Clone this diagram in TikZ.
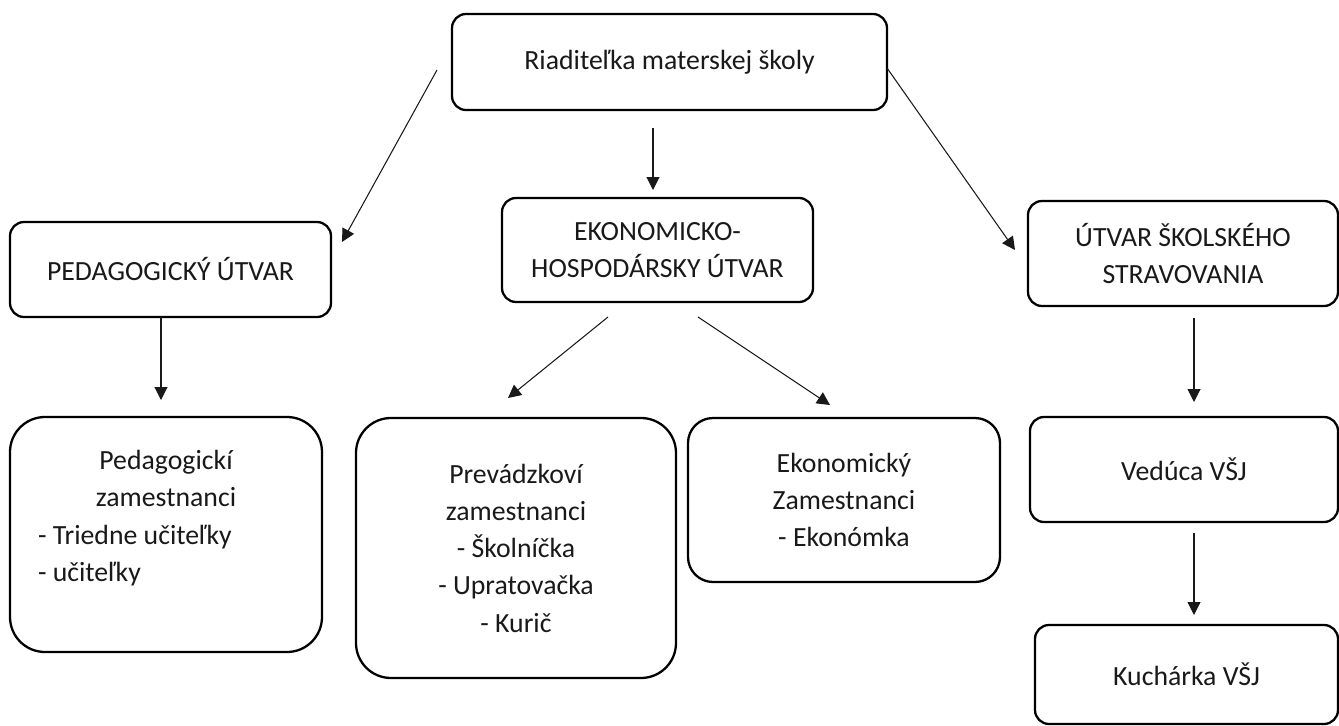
\documentclass[tikz,border=0pt]{standalone}
\usepackage{fontspec}
\setmainfont{Carlito}
\usepackage{tikz}
\usetikzlibrary{arrows.meta, positioning}
\usepackage{xcolor}
\definecolor{inkgray}{rgb}{0.1, 0.1, 0.1}

\begin{document}
\begin{tikzpicture}[
			unit/.style={draw=black, line width=1.3pt, rounded corners=0.28cm, align=center, text=inkgray, font=\fontsize{15.8}{21.2}\selectfont},
			staff/.style={unit, rounded corners=0.7cm},
			arr/.style={-{Triangle[length=0.26cm, width=0.26cm]}, line width=0.6pt, draw=inkgray}
		]
		\useasboundingbox (0,0) rectangle (26.78,-14.52);
		% top
		\node[unit, minimum width=8.7cm, minimum height=1.92cm] (root) at (13.39,-1.24) {Riaditeľka materskej školy};
		% middle row
		\node[unit, minimum width=6.42cm, minimum height=1.90cm] (ped) at (3.41,-5.39) {PEDAGOGICKÝ ÚTVAR};
		\node[unit, minimum width=6.22cm, minimum height=2.08cm] (eko) at (13.15,-5.00) {EKONOMICKO-\\HOSPODÁRSKY ÚTVAR};
		\node[unit, minimum width=6.20cm, minimum height=2.10cm] (utv) at (23.66,-5.07) {ÚTVAR ŠKOLSKÉHO\\STRAVOVANIA};
		% bottom row
		\node[staff, text width=5.12cm, inner xsep=0.56cm, minimum height=4.70cm, align=flush left] (pedzam) at (3.32,-10.69)
			{{\centering Pedagogickí\\ zamestnanci\par}\raggedright - Triedne učiteľky\\ - učiteľky\\ \mbox{}};
		\node[staff, minimum width=6.40cm, minimum height=5.20cm] (prev) at (10.32,-10.96) {Prevádzkoví\\zamestnanci\\- Školníčka\\- Upratovačka\\- Kurič};
		\node[staff, rounded corners=0.5cm, minimum width=6.24cm, minimum height=3.28cm] (ekozam) at (16.88,-10.00) {Ekonomický\\Zamestnanci\\- Ekonómka};
		\node[unit, minimum width=6.16cm, minimum height=2.10cm] (ved) at (23.68,-9.39) {Vedúca VŠJ};
		\node[unit, minimum width=6.06cm, minimum height=1.98cm] (kuch) at (23.73,-13.49) {Kuchárka VŠJ};
		% arrow ends
		\coordinate (root-l) at (8.74,-1.40);   \coordinate (ped-t) at (6.84,-4.84);
		\coordinate (root-b) at (13.06,-2.56);  \coordinate (eko-t) at (13.06,-3.80);
		\coordinate (root-r) at (17.74,-1.36);  \coordinate (utv-t) at (20.30,-5.00);
		\coordinate (ped-b) at (3.22,-6.34);    \coordinate (pedzam-t) at (3.22,-8.00);
		\coordinate (eko-bl) at (12.16,-6.34);  \coordinate (prev-t) at (10.16,-7.96);
		\coordinate (eko-br) at (13.96,-6.34);  \coordinate (ekozam-t) at (16.60,-8.10);
		\coordinate (utv-b) at (23.88,-6.36);   \coordinate (ved-t) at (23.88,-8.04);
		\coordinate (ved-b) at (23.88,-10.66);  \coordinate (kuch-t) at (23.88,-12.30);
		\draw[arr] (root-l) -- (ped-t);
		\draw[arr] (root-b) -- (eko-t);
		\draw[arr] (root-r) -- (utv-t);
		\draw[arr] (ped-b) -- (pedzam-t);
		\draw[arr] (eko-bl) -- (prev-t);
		\draw[arr] (eko-br) -- (ekozam-t);
		\draw[arr] (utv-b) -- (ved-t);
		\draw[arr] (ved-b) -- (kuch-t);
	\end{tikzpicture}
\end{document}
